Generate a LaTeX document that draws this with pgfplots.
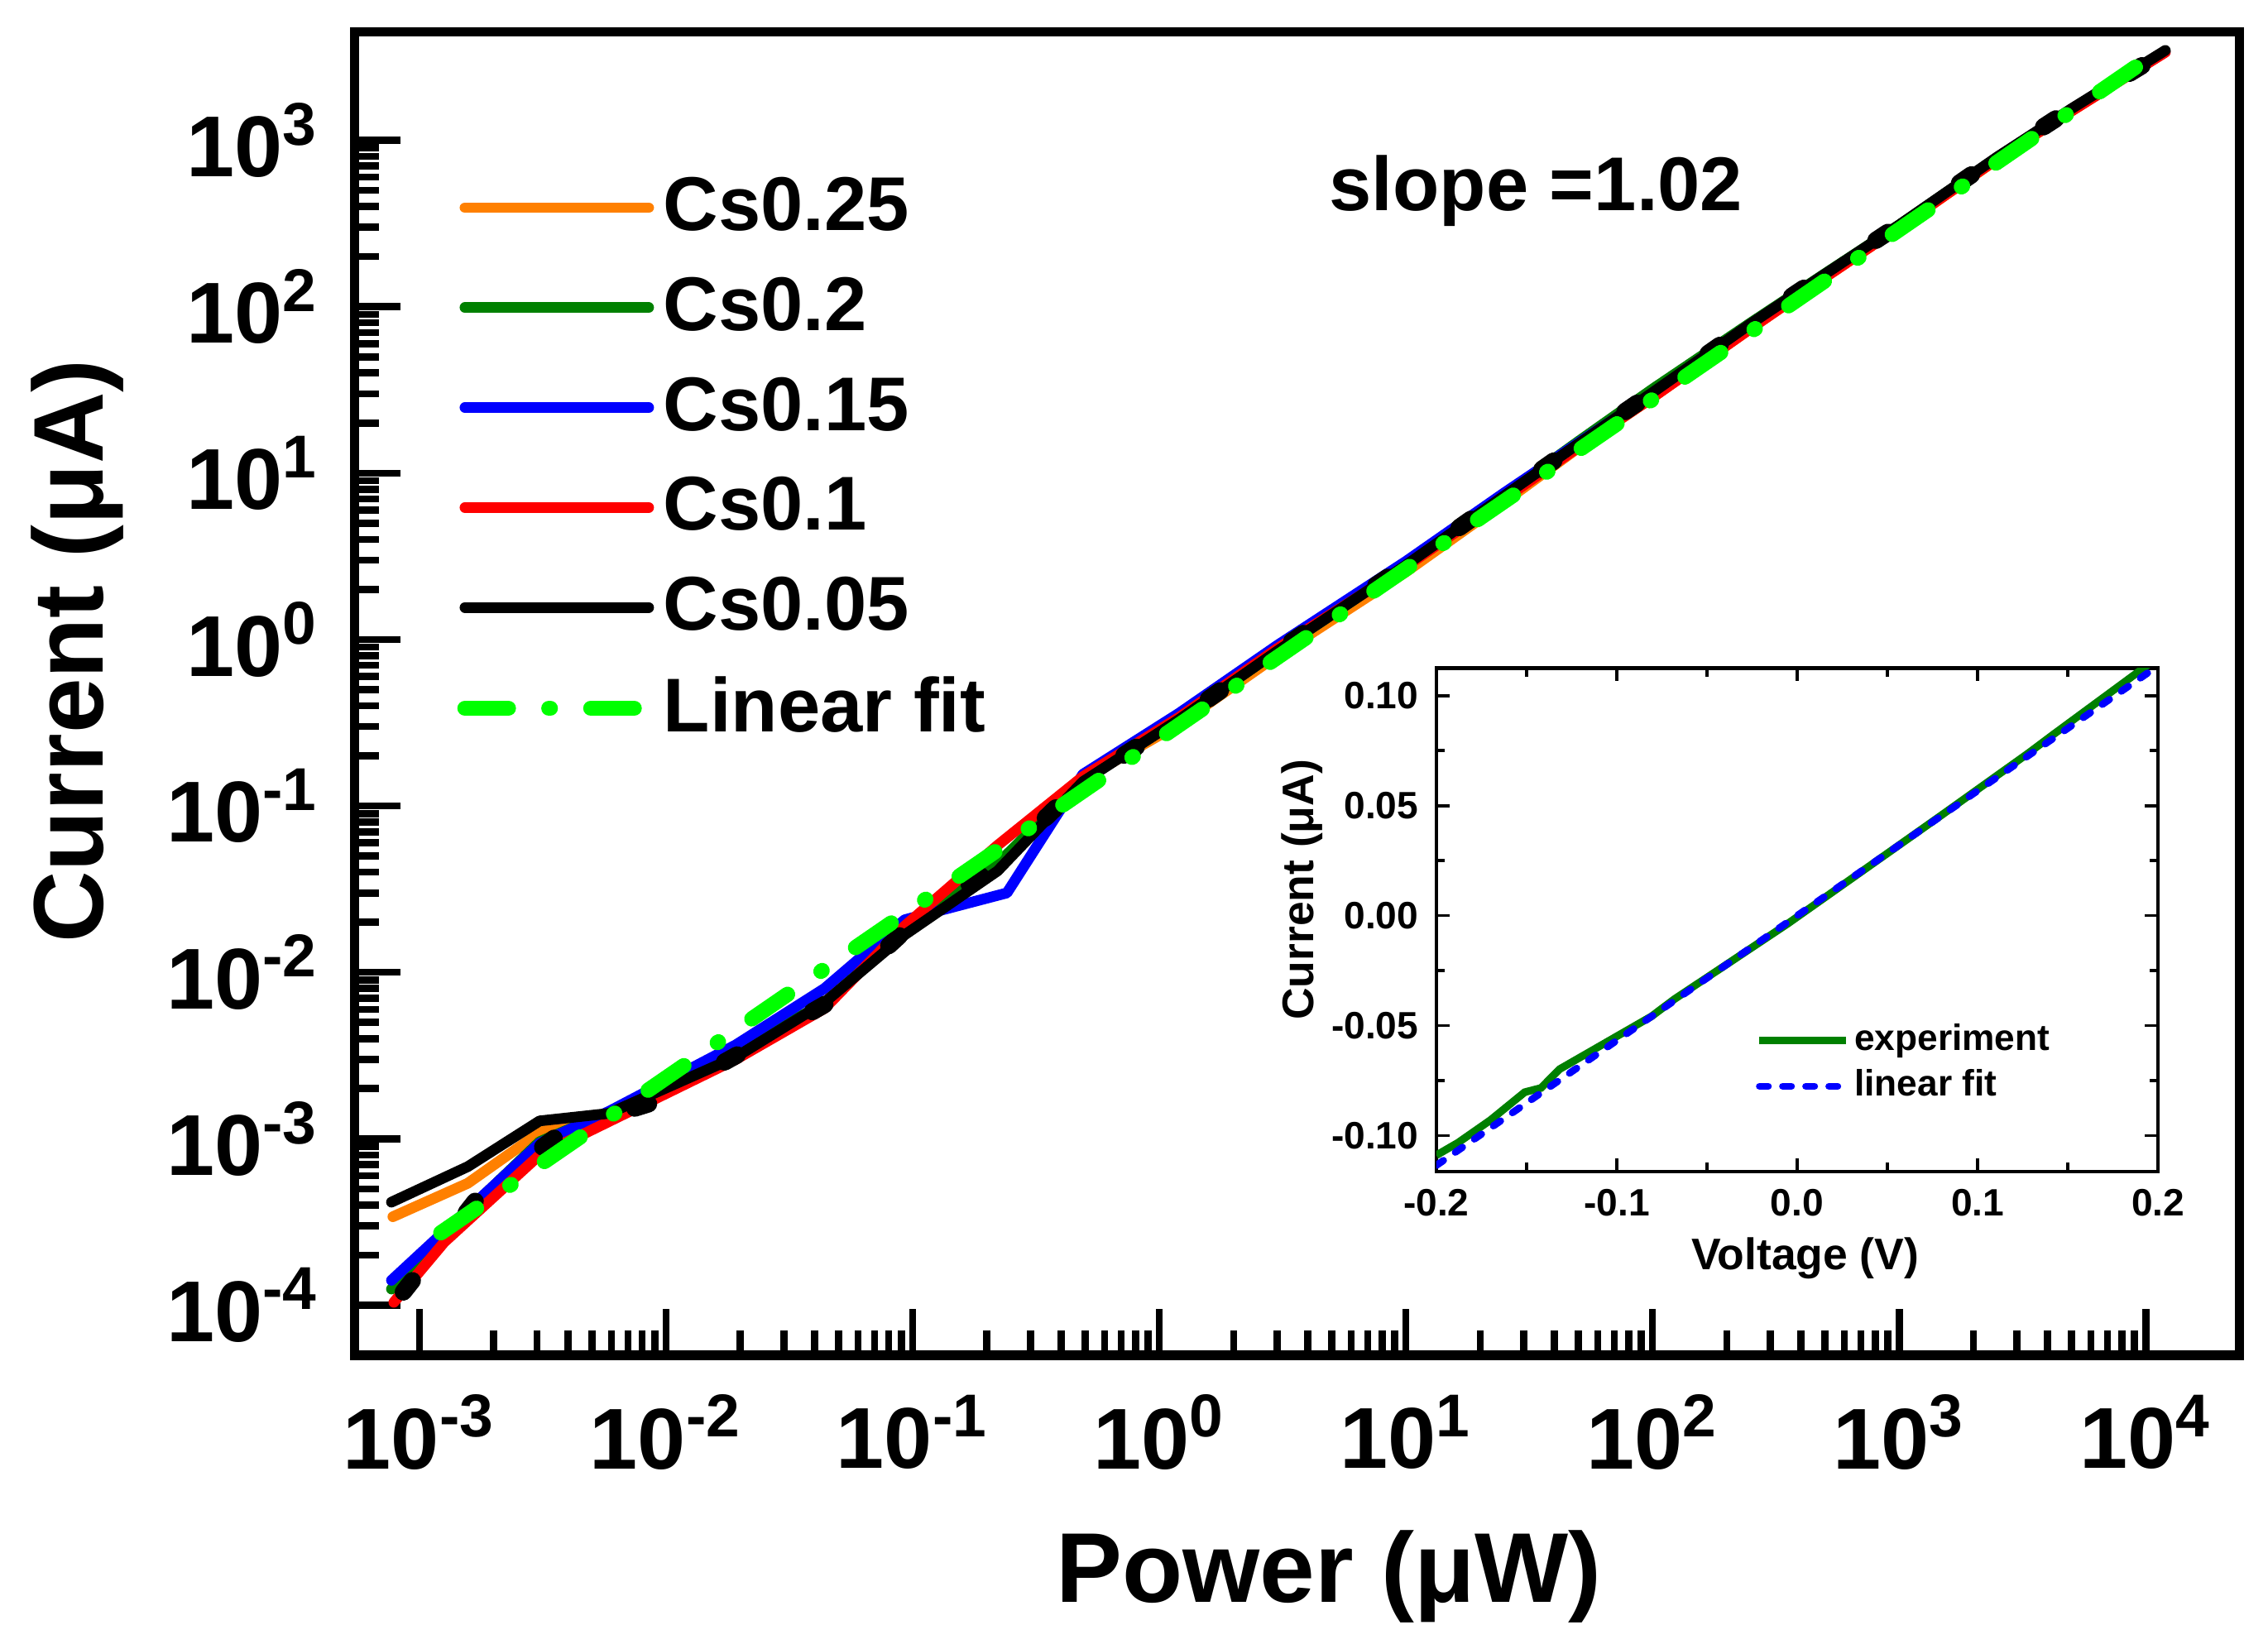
\documentclass[border=0pt]{standalone}
\usepackage{pgfplots}
\pgfplotsset{compat=1.18}
\usepackage{fontspec}
\setmainfont{Liberation Sans}
\definecolor{corange}{RGB}{255,128,0}
\definecolor{cgreen}{RGB}{0,128,0}
\definecolor{cfit}{RGB}{0,255,0}
\begin{document}
\begin{tikzpicture}
\path[use as bounding box] (0,0) rectangle (15.68cm,11.40cm);
\begin{axis}[
  at={(2.45cm,2.03cm)}, anchor=south west,
  scale only axis, width=13.03cm, height=9.15cm,
  xmode=log, ymode=log,
  xmin=5.445e-4, xmax=2.39e4, ymin=5.0e-5, ymax=4487,
  axis line style={line width=1.8pt},
  tick align=inside, xtick pos=bottom, ytick pos=left,
  major tick length=0.32cm, minor tick length=0.17cm,
  tick style={black, line width=1.4pt},
  xtick={1e-3,1e-2,1e-1,1,10,100,1000,10000},
  xticklabels={10\textsuperscript{-3},10\textsuperscript{-2},10\textsuperscript{-1},10\textsuperscript{0},10\textsuperscript{1},10\textsuperscript{2},10\textsuperscript{3},10\textsuperscript{4}},
  ytick={1e-4,1e-3,1e-2,1e-1,1,10,100,1000},
  yticklabels={10\textsuperscript{-4},10\textsuperscript{-3},10\textsuperscript{-2},10\textsuperscript{-1},10\textsuperscript{0},10\textsuperscript{1},10\textsuperscript{2},10\textsuperscript{3}},
  ticklabel style={font=\fontsize{17}{19}\selectfont\bfseries},
  xticklabel style={yshift=-0.15cm},
  yticklabel style={xshift=-0.12cm},
  xlabel={Power (μW)}, ylabel={Current (μA)},
  label style={font=\fontsize{19.5}{22}\selectfont\bfseries},
  xlabel style={at={(axis description cs:0.517,-0.167)}, anchor=center},
  ylabel style={at={(axis description cs:-0.147,0.532)}, anchor=center, rotate=0},
  legend style={draw=none, fill=none, at={(0.046,0.904)}, anchor=north west,
    font=\fontsize{15}{17}\selectfont\bfseries, row sep=0.17cm,
    nodes={inner sep=0.05cm}, cells={anchor=west}},
  legend image code/.code={\draw[#1, line cap=round] (-0.05cm,0cm) -- (1.22cm,0cm);},
  every axis plot/.append style={line width=2.1pt, line cap=round, line join=round},
]
\addplot[corange] coordinates {(7.8e-4,3.4e-4) (1.57e-3,5.4e-4) (3.1e-3,1.1e-3) (5.9e-3,1.4e-3) (1.92e-2,3.2e-3) (4.39e-2,6.6e-3) (9.28e-2,1.75e-2) (0.221,4.3e-2) (0.49,0.145) (1.2,0.31) (3,0.80) (10,2.55) (25,6.7) (50,14.2) (100,28.5) (250,74) (500,150) (1000,300) (2500,770) (5000,1500) (1.2e4,3400)};
\addlegendentry{Cs0.25}
\addplot[cgreen] coordinates {(7.7e-4,1.25e-4) (1.57e-3,3.7e-4) (3.07e-3,9.6e-4) (5.9e-3,1.45e-3) (1.92e-2,3.4e-3) (4.39e-2,6.5e-3) (9.28e-2,1.75e-2) (0.221,4.5e-2) (0.49,0.145) (1.2,0.33) (3,0.85) (10,2.8) (25,7.4) (50,15.5) (100,32) (250,80) (500,158) (1000,310) (2500,790) (5000,1540) (1.2e4,3420)};
\addlegendentry{Cs0.2}
\addplot[blue] coordinates {(7.7e-4,1.41e-4) (1.57e-3,3.75e-4) (3.07e-3,9.4e-4) (5.86e-3,1.46e-3) (1.92e-2,3.67e-3) (4.39e-2,8.0e-3) (9.28e-2,2.07e-2) (0.241,3.0e-2) (0.49,0.155) (1.2,0.36) (3,0.92) (10,2.95) (25,7.6) (50,15.2) (100,30) (250,77) (500,153) (1000,305) (2500,780) (5000,1520) (1.2e4,3400)};
\addlegendentry{Cs0.15}
\addplot[red] coordinates {(7.87e-4,1.04e-4) (1.26e-3,2.39e-4) (3.13e-3,8.2e-4) (4.46e-3,1.04e-3) (1.92e-2,3.0e-3) (4.39e-2,6.07e-3) (9.28e-2,1.9e-2) (0.221,5.8e-2) (0.49,0.15) (1.2,0.34) (3,0.88) (10,2.75) (25,7.0) (50,14.3) (100,28.5) (250,74) (500,150) (1000,300) (2500,775) (5000,1500) (1.2e4,3380)};
\addlegendentry{Cs0.1}
\addplot[black] coordinates {(7.7e-4,4.16e-4) (1.57e-3,6.8e-4) (3.07e-3,1.28e-3) (5.86e-3,1.42e-3) (1.92e-2,3.1e-3) (4.39e-2,6.6e-3) (9.28e-2,1.68e-2) (0.221,4.07e-2) (0.49,0.14) (1.2,0.33) (3,0.85) (10,2.8) (25,7.3) (50,15) (100,30.5) (250,79) (500,157) (1000,310) (2500,795) (5000,1550) (1.2e4,3470)};
\addlegendentry{Cs0.05}
\addplot[black, forget plot, line width=3.4pt, dash pattern=on 0.1cm off 0.6cm] coordinates {(8.6e-4,1.2e-4) (1.76e-3,4.58e-4) (3.89e-3,1.13e-3) (8.7e-3,1.64e-3) (1.95e-2,3.2e-3) (4.39e-2,6.4e-3) (9.46e-2,1.82e-2) (0.223,4.53e-2) (0.49,0.14) (1.2,0.33) (3,0.85) (10,2.8) (25,7.3) (50,15) (100,30.5) (250,79) (500,157) (1000,310) (2500,795) (5000,1550) (1.0e4,2900)};
\addplot[cfit, line width=3pt, dash pattern=on 0.30cm off 0.28cm on 0.01cm off 0.28cm] coordinates {(1.22e-3,2.72e-4) (1.05e4,3190)};
\addlegendentry{Linear fit}
\node[font=\fontsize{15}{17}\selectfont\bfseries] at (axis description cs:0.627,0.880) {slope =1.02};
\end{axis}
\begin{axis}[
  at={(9.93cm,3.30cm)}, anchor=south west,
  scale only axis, width=4.99cm, height=3.48cm,
  axis background/.style={fill=white},
  xmin=-0.2, xmax=0.2, ymin=-0.1164, ymax=0.1125,
  axis line style={line width=0.7pt},
  tick align=inside,
  major tick length=0.09cm, minor tick length=0.06cm,
  tick style={black, line width=0.6pt},
  xtick={-0.2,-0.1,0,0.1,0.2}, minor x tick num=1,
  ytick={-0.1,-0.05,0,0.05,0.1}, minor y tick num=1,
  /pgf/number format/assume math mode=true,
  xticklabel style={/pgf/number format/.cd, fixed, fixed zerofill, precision=1},
  yticklabel style={/pgf/number format/.cd, fixed, fixed zerofill, precision=2},
  ticklabel style={font=\fontsize{7.5}{9}\selectfont\bfseries},
  xlabel={Voltage (V)}, ylabel={Current (μA)},
  label style={font=\fontsize{8.7}{10}\selectfont\bfseries},
  xlabel style={at={(axis description cs:0.511,-0.172)}, anchor=center},
  ylabel style={at={(axis description cs:-0.186,0.56)}, anchor=center, rotate=0},
  legend style={draw=none, fill=none, at={(0.42,0.325)}, anchor=north west,
    font=\fontsize{7.2}{8.5}\selectfont\bfseries, row sep=0.02cm,
    nodes={inner sep=0.03cm}, cells={anchor=west}},
  legend image code/.code={\draw[#1] (0cm,0cm) -- (0.6cm,0cm);},
]
\addplot[cgreen, line width=1.5pt] coordinates {(-0.2,-0.109) (-0.188,-0.1033) (-0.17,-0.093) (-0.151,-0.0803) (-0.142,-0.0784) (-0.1316,-0.0698) (-0.0807,-0.0458) (-0.0684,-0.0382) (-0.0053,-0.0037) (0.079,0.0451) (0.128,0.0738) (0.142,0.0824) (0.191,0.112) (0.195,0.1145)};
\addlegendentry{experiment}
\addplot[blue, line width=1.4pt, line cap=round, dash pattern=on 0.06cm off 0.1cm] coordinates {(-0.2,-0.1136) (0.2,0.1136)};
\addlegendentry{linear fit}
\end{axis}
\end{tikzpicture}
\end{document}
